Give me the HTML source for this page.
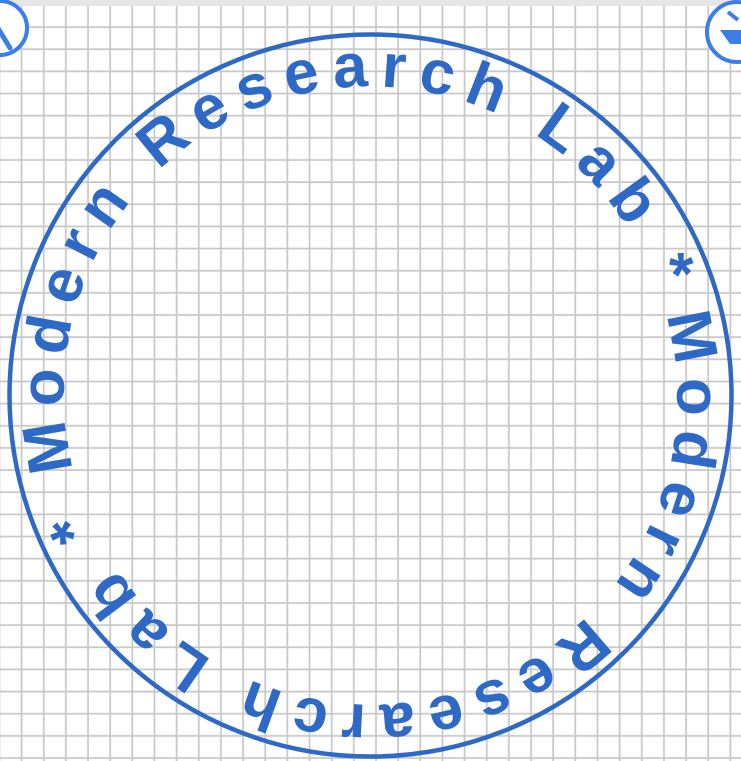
<!DOCTYPE html>
<html><head><meta charset="utf-8"><style>
html,body{margin:0;padding:0;background:#fff;}
svg{display:block;}
</style></head><body>
<svg width="741" height="761" viewBox="0 0 741 761">
<defs>
<pattern id="grid" x="0.3" y="5.8" width="22.15" height="22.15" patternUnits="userSpaceOnUse">
<rect x="0" y="0" width="22.15" height="22.15" fill="#fff"/>
<rect x="20.4" y="0" width="3.4" height="22.15" fill="#c8c8c8"/>
<rect x="0" y="20.4" width="22.15" height="3.4" fill="#c8c8c8"/>
</pattern>
<path id="ring" d="M 73.6 469.5 A 306 306 0 1 1 667.4 321.5 A 306 306 0 1 1 73.6 469.5"/>
</defs>
<rect x="0" y="0" width="741" height="761" fill="url(#grid)"/>
<rect x="0" y="0" width="741" height="6" fill="#e6e6e6"/>
<circle cx="370.5" cy="395.5" r="361" fill="none" stroke="#2f69c6" stroke-width="4.5"/>
<text font-family="Liberation Sans, sans-serif" font-weight="bold" font-size="62" fill="#2f69c6"><textPath href="#ring" startOffset="0" textLength="961" lengthAdjust="spacing">Modern Research Lab *&#160;</textPath></text>
<text font-family="Liberation Sans, sans-serif" font-weight="bold" font-size="62" fill="#2f69c6"><textPath href="#ring" startOffset="961" textLength="961" lengthAdjust="spacing">Modern Research Lab *&#160;</textPath></text>
<g>
<circle cx="0" cy="28" r="27" fill="#fff" stroke="#3d7de8" stroke-width="4"/>
<line x1="-4" y1="25" x2="10" y2="48" stroke="#3d7de8" stroke-width="5" stroke-linecap="round"/>
</g>
<g>
<circle cx="737" cy="32" r="30" fill="#fff" stroke="#3d7de8" stroke-width="4"/>
<path d="M 720 30 L 741 30 L 741 44 L 730 44 Z" fill="#3d7de8"/>
<line x1="728" y1="12" x2="738" y2="20" stroke="#3d7de8" stroke-width="4"/>
</g>
</svg>
</body></html>
